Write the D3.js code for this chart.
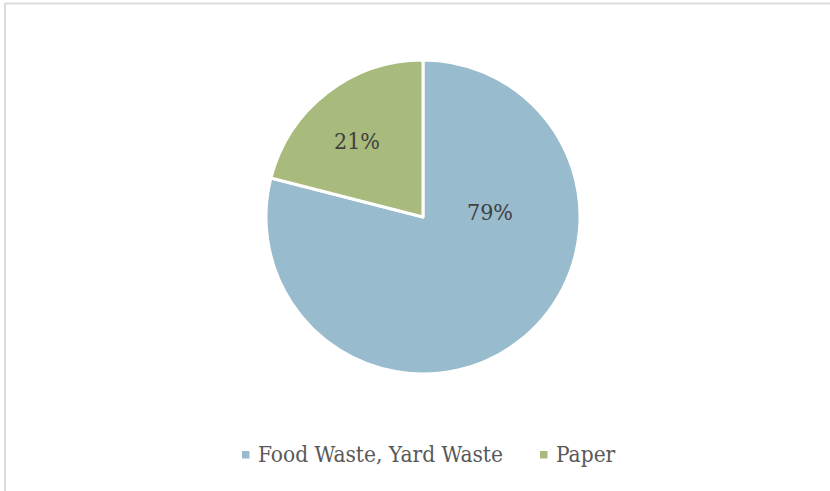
<!DOCTYPE html>
<html>
<head>
<meta charset="utf-8">
<script src="https://cdn.jsdelivr.net/npm/d3@7"></script>
<style>
  html, body { margin: 0; padding: 0; background: #fff; }
  svg { display: block; }
</style>
</head>
<body>
<svg id="chart" width="830" height="491"></svg>
<script>
// Waste composition shares
const categories = ["Food Waste, Yard Waste", "Paper"];
const shares = [79, 21];
const colors = ["#98BBCD", "#A9BA7D"];

const svg = d3.select("#chart");
const W = 830, H = 491;
const FONT = "'DejaVu Serif Condensed', 'DejaVu Serif', serif";

// chart area frame (only top and left edges fall inside the view)
svg.append("rect")
  .attr("x", 5).attr("y", 3.5)
  .attr("width", W + 10).attr("height", H + 10)
  .attr("fill", "#fff")
  .attr("stroke", "#dcdcdc")
  .attr("stroke-width", 2);

const cx = 423, cy = 217, R = 157;

const pie = d3.pie().sort(null).value(d => d);
const arcs = pie(shares);
const arc = d3.arc().innerRadius(0).outerRadius(R);

const g = svg.append("g").attr("transform", `translate(${cx},${cy})`);

g.selectAll("path.slice")
  .data(arcs)
  .join("path")
  .attr("class", "slice")
  .attr("d", arc)
  .attr("fill", (d, i) => colors[i])
  .attr("stroke", "#fff")
  .attr("stroke-width", 3)
  .attr("stroke-linejoin", "round");

// percentage labels (baseline positions relative to the pie centre)
const labelPos = [[67, 3], [-66, -68]];
g.selectAll("text.pct")
  .data(arcs)
  .join("text")
  .attr("class", "pct")
  .attr("x", (d, i) => labelPos[i][0])
  .attr("y", (d, i) => labelPos[i][1])
  .attr("text-anchor", "middle")
  .attr("font-family", FONT)
  .attr("font-size", 23)
  .attr("fill", "#404040")
  .text(d => d.data + "%");

// legend
const legend = svg.append("g").attr("class", "legend");
const legendItems = [
  { x: 242, tx: 258 },
  { x: 540, tx: 556 }
];
categories.forEach((c, i) => {
  legend.append("rect")
    .attr("x", legendItems[i].x).attr("y", 451)
    .attr("width", 7.5).attr("height", 7.5)
    .attr("fill", colors[i]);
  legend.append("text")
    .attr("x", legendItems[i].tx).attr("y", 462)
    .attr("font-family", FONT)
    .attr("font-size", 22.5)
    .attr("fill", "#595959")
    .text(c);
});
</script>
</body>
</html>
